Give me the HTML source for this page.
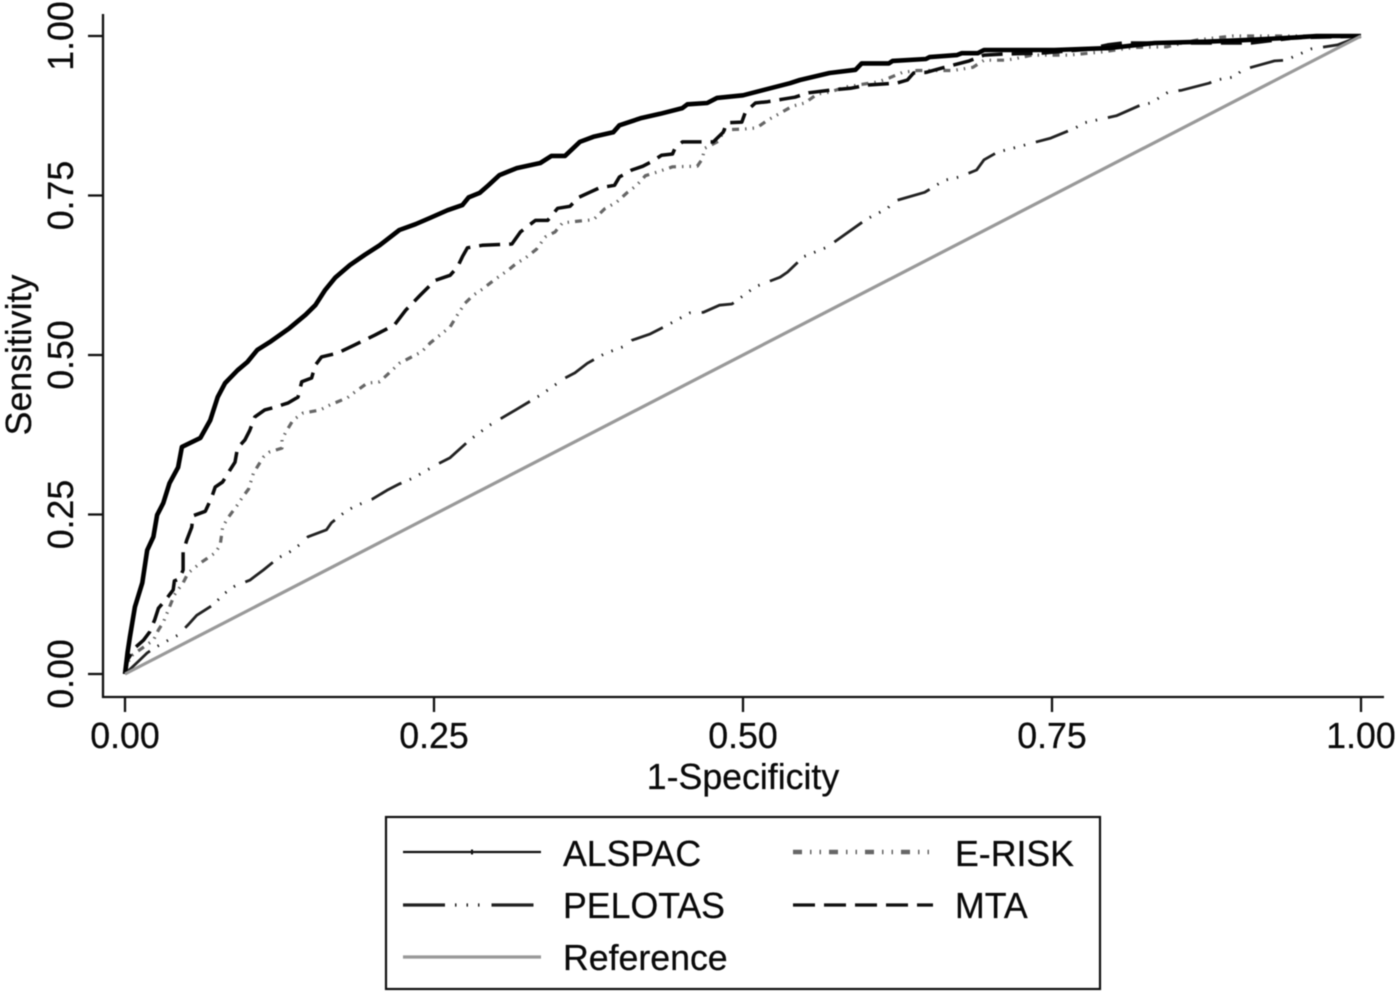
<!DOCTYPE html>
<html lang="en">
<head>
<meta charset="utf-8">
<title>ROC curves</title>
<style>
html,body{margin:0;padding:0;background:#fff;}
svg{display:block;filter:blur(0.45px);}
text{font-family:"Liberation Sans",Arial,sans-serif;font-size:35.7px;fill:#0a0a0a;stroke:#0a0a0a;stroke-width:0.25px;}
</style>
</head>
<body>
<svg id="chart" xmlns="http://www.w3.org/2000/svg" width="1400" height="994" viewBox="0 0 1400 994">
  <rect x="0" y="0" width="1400" height="994" fill="#fff"/>
  <g id="marks" fill="none"></g>
  <g id="axes"></g>
  <text x="743" y="789" text-anchor="middle">1-Specificity</text>
  <text transform="translate(31 355) rotate(-90)" text-anchor="middle">Sensitivity</text>
  <g>
    <rect x="386" y="817" width="714" height="172" fill="#fff" stroke="#111" stroke-width="2.2"/>
    <g>
      <line x1="403" y1="852" x2="541" y2="852" stroke="#111" stroke-width="2.2"/>
      <line x1="472" y1="849.5" x2="472" y2="854.5" stroke="#111" stroke-width="2"/>
      <text x="563" y="866">ALSPAC</text>
    </g>
    <g>
      <line x1="793" y1="852" x2="933" y2="852" stroke="#666" stroke-width="4.5" stroke-dasharray="9 8 1.5 8 1.5 8"/>
      <text x="955" y="866">E-RISK</text>
    </g>
    <g>
      <line x1="403" y1="905" x2="534" y2="905" stroke="#222" stroke-width="3.2" stroke-dasharray="42 10 1.5 10 1.5 10 1.5 12"/>
      <text x="563" y="918">PELOTAS</text>
    </g>
    <g>
      <line x1="793" y1="905" x2="933" y2="905" stroke="#111" stroke-width="3.2" stroke-dasharray="22 9"/>
      <text x="955" y="918">MTA</text>
    </g>
    <g>
      <line x1="403" y1="957" x2="541" y2="957" stroke="#999" stroke-width="3.2"/>
      <text x="563" y="970">Reference</text>
    </g>
  </g>
</svg>
<script>
const xTickValues = [0, 0.25, 0.5, 0.75, 1];
const yTickValues = [0, 0.25, 0.5, 0.75, 1];
const xTickLabels = ["0.00", "0.25", "0.50", "0.75", "1.00"];
const yTickLabels = ["0.00", "0.25", "0.50", "0.75", "1.00"];

const referenceFpr = [0, 1];
const referenceTpr = [0, 1];

const pelotasFpr = [0,.012,.018,.024,.035,.043,.051,.058,.071,.081,.089,.101,.112,.124,.133,.143,.148,.163,.167,.178,.186,.200,.212,.222,.233,.252,.263,.279,.295,.316,.336,.356,.364,.374,.388,.403,.410,.425,.437,.457,.468,.481,.491,.510,.530,.536,.549,.568,.600,.617,.622,.647,.663,.675,.689,.695,.706,.722,.749,.769,.776,.802,.822,.830,.844,.855,.877,.883,.898,.904,.930,.939,.960,.981,1];
const pelotasTpr = [0,.022,.033,.041,.053,.061,.077,.092,.108,.127,.138,.147,.163,.182,.191,.205,.215,.226,.237,.254,.263,.274,.288,.298,.307,.328,.339,.367,.390,.414,.437,.464,.472,.487,.502,.513,.523,.533,.545,.566,.567,.578,.580,.607,.622,.630,.654,.669,.713,.730,.741,.755,.774,.779,.790,.806,.818,.826,.840,.856,.864,.875,.892,.895,.912,.915,.926,.931,.936,.947,.961,.962,.980,.986,1];

const eriskFpr = [0,.004,.023,.027,.031,.036,.040,.047,.051,.061,.073,.077,.079,.083,.091,.095,.100,.104,.112,.117,.127,.127,.130,.136,.144,.158,.166,.180,.186,.196,.206,.216,.222,.240,.247,.256,.263,.269,.275,.282,.289,.299,.310,.317,.324,.333,.340,.348,.354,.368,.379,.388,.398,.406,.414,.421,.431,.443,.463,.467,.469,.480,.485,.500,.511,.520,.530,.540,.550,.560,.570,.583,.609,.618,.629,.641,.659,.670,.686,.695,.712,.719,.734,.764,.790,.816,.843,.868,.896,1];
const eriskTpr = [0,.027,.053,.069,.081,.105,.124,.143,.158,.174,.190,.202,.230,.244,.265,.277,.290,.315,.340,.348,.354,.367,.379,.398,.409,.414,.422,.433,.442,.456,.458,.476,.487,.505,.519,.533,.544,.563,.581,.594,.603,.618,.633,.644,.652,.666,.685,.693,.707,.710,.712,.729,.740,.754,.766,.781,.787,.795,.796,.807,.824,.835,.853,.854,.856,.868,.879,.890,.895,.909,.912,.920,.928,.934,.943,.946,.946,.946,.951,.962,.962,.964,.970,.970,.975,.982,.983,.994,1,1];

const mtaFpr = [0,.002,.008,.015,.020,.024,.027,.034,.039,.040,.044,.047,.047,.050,.054,.055,.065,.070,.073,.079,.085,.089,.091,.097,.101,.105,.113,.121,.132,.140,.143,.151,.154,.159,.172,.186,.202,.218,.227,.239,.251,.263,.269,.273,.277,.289,.313,.320,.326,.332,.342,.350,.360,.367,.376,.384,.396,.400,.410,.419,.427,.434,.443,.445,.451,.476,.484,.487,.499,.502,.510,.520,.532,.542,.553,.570,.587,.600,.624,.633,.638,.648,.663,.683,.695,.714,.741,.778,.795,.807,.874,.911,.946,1];
const mtaTpr = [0,.022,.041,.053,.066,.085,.103,.119,.132,.146,.149,.163,.191,.210,.230,.248,.255,.276,.293,.301,.320,.332,.354,.367,.382,.403,.414,.418,.425,.434,.458,.464,.484,.497,.503,.516,.531,.547,.570,.594,.617,.625,.638,.654,.668,.672,.674,.693,.702,.711,.711,.730,.733,.747,.755,.762,.766,.779,.790,.796,.804,.813,.815,.824,.834,.834,.849,.864,.865,.881,.895,.897,.901,.904,.911,.915,.918,.923,.926,.931,.942,.943,.951,.961,.970,.972,.973,.979,.986,.989,.989,.989,.997,1];

const alspacFpr = [0,.002,.004,.008,.014,.018,.023,.026,.031,.036,.043,.046,.061,.069,.075,.081,.091,.099,.107,.117,.133,.146,.154,.162,.170,.182,.194,.206,.222,.235,.247,.261,.273,.278,.287,.294,.303,.317,.336,.345,.356,.368,.379,.395,.400,.417,.433,.451,.455,.471,.479,.500,.516,.538,.546,.570,.591,.596,.618,.621,.648,.651,.673,.677,.690,.695,.752,.796,.833,.874,.911,.949,.964,1];
const alspacTpr = [0,.033,.058,.105,.143,.194,.215,.249,.268,.299,.324,.356,.370,.398,.434,.456,.476,.489,.508,.520,.542,.563,.578,.602,.621,.641,.657,.672,.696,.705,.715,.727,.735,.747,.754,.766,.782,.793,.801,.812,.812,.834,.842,.849,.860,.871,.878,.887,.893,.895,.903,.907,.915,.926,.931,.942,.947,.957,.957,.961,.964,.967,.970,.973,.973,.978,.978,.981,.989,.991,.994,.998,1,1];

const SVG_NS = "http://www.w3.org/2000/svg";
function xScale(v) { return 125 + v * 1236; }
function yScale(v) { return 674 - v * 638; }

function pathFrom(fpr, tpr) {
  return fpr.map(function (f, i) {
    return (i ? "L" : "M") + xScale(f).toFixed(1) + " " + yScale(tpr[i]).toFixed(1);
  }).join("");
}

function addSeries(name, fpr, tpr, stroke, width, dash) {
  const p = document.createElementNS(SVG_NS, "path");
  
  
  p.setAttribute("d", pathFrom(fpr, tpr));
  p.setAttribute("stroke", stroke);
  p.setAttribute("stroke-width", width);
  p.setAttribute("stroke-linejoin", "round");
  if (dash) p.setAttribute("stroke-dasharray", dash);
  document.getElementById("marks").appendChild(p);
}

addSeries("series-pelotas", pelotasFpr, pelotasTpr, "#222", 2.8, "34 9 1.5 9 1.5 9 1.5 11");
addSeries("series-erisk", eriskFpr, eriskTpr, "#666", 3.2, "7 6 1.5 6 1.5 6");
addSeries("series-mta", mtaFpr, mtaTpr, "#0a0a0a", 3.5, "21 9");
addSeries("series-alspac", alspacFpr, alspacTpr, "#000", 4.6);
addSeries("series-reference", referenceFpr, referenceTpr, "#999", 3.2);

const axes = document.getElementById("axes");

function axisLine(name, x1, y1, x2, y2) {
  const l = document.createElementNS(SVG_NS, "line");
  
  
  l.setAttribute("x1", x1);
  l.setAttribute("y1", y1);
  l.setAttribute("x2", x2);
  l.setAttribute("y2", y2);
  l.setAttribute("stroke", "#111");
  l.setAttribute("stroke-width", 2.3);
  axes.appendChild(l);
}

axisLine("y-axis-line", 103, 14, 103, 698);
axisLine("x-axis-line", 102, 697, 1384, 697);

xTickValues.forEach(function (v, i) {
  const x = xScale(v);
  axisLine("x-tick", x, 697, x, 712);
  const t = document.createElementNS(SVG_NS, "text");
  
  
  t.setAttribute("x", x);
  t.setAttribute("y", 748);
  t.setAttribute("text-anchor", "middle");
  t.textContent = xTickLabels[i];
  axes.appendChild(t);
});

yTickValues.forEach(function (v, i) {
  const y = yScale(v);
  axisLine("y-tick", 88, y, 103, y);
  const t = document.createElementNS(SVG_NS, "text");
  
  
  t.setAttribute("transform", "translate(73 " + y + ") rotate(-90)");
  t.setAttribute("text-anchor", "middle");
  t.textContent = yTickLabels[i];
  axes.appendChild(t);
});
</script>
</body>
</html>
